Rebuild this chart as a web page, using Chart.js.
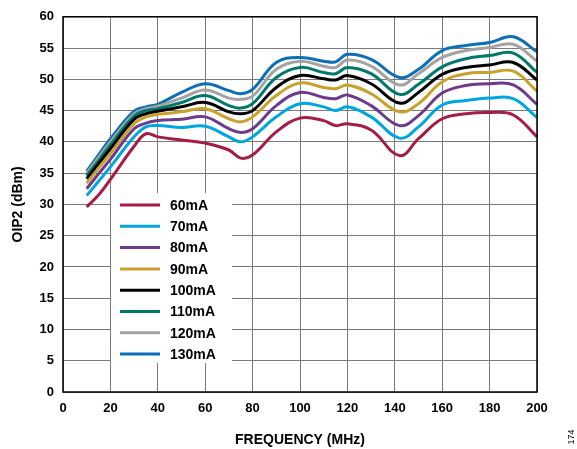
<!DOCTYPE html>
<html><head><meta charset="utf-8">
<script src="https://cdn.jsdelivr.net/npm/chart.js@4/dist/chart.umd.min.js"></script>
<style>html,body{margin:0;padding:0;background:#fff}#wrap{width:577px;height:449px}</style>
</head><body><div id="wrap"><canvas id="c" width="577" height="449"></canvas></div>
<script>
const freq = [10,15,20,30,35,40,50,60,70,75,80,90,100,110,115,120,130,142,150,160,170,180,190,200];
const s60  = [29.6,31.5,34.0,39.3,41.3,40.8,40.3,39.8,38.7,37.4,37.9,41.6,43.8,43.4,42.6,42.9,41.9,37.8,40.5,43.7,44.5,44.7,44.3,40.8];
const s70  = [31.4,33.7,36.0,40.8,42.4,42.6,42.3,42.5,40.8,40.0,40.8,44.0,46.1,45.6,45.0,45.6,44.0,40.6,42.4,45.9,46.6,47.0,46.9,43.9];
const s80  = [32.5,34.9,37.2,42.1,43.0,43.4,43.6,44.0,42.1,41.5,42.1,45.8,47.9,47.1,46.9,47.5,45.8,42.6,44.2,47.8,49.0,49.3,49.1,46.0];
const s90  = [33.4,35.8,38.1,42.9,44.0,44.4,44.8,45.3,43.7,43.2,44.0,47.4,49.4,48.7,48.5,49.1,47.7,44.8,46.1,49.6,50.9,51.1,51.3,48.1];
const s100 = [34.1,36.5,38.9,43.6,44.5,44.9,45.6,46.3,44.8,44.5,45.0,48.7,50.6,50.1,49.9,50.6,49.3,46.2,47.9,50.8,51.9,52.3,52.7,49.9];
const s110 = [34.6,37.0,39.5,44.1,45.0,45.3,46.3,47.4,45.8,45.4,46.1,50.3,51.9,51.1,50.9,51.9,50.9,47.6,49.2,52.0,53.3,53.8,54.2,51.1];
const s120 = [35.0,37.5,40.0,44.5,45.3,45.7,47.0,48.3,47.0,46.8,47.3,51.6,52.9,52.1,51.9,53.1,52.1,49.1,50.9,53.5,54.6,55.1,55.6,52.9];
const s130 = [35.3,37.9,40.5,44.9,45.6,46.0,47.9,49.3,48.2,47.7,48.4,52.7,53.5,52.9,52.8,54.0,53.2,50.3,51.6,54.6,55.4,55.9,56.8,54.4];
const labels = ['60mA','70mA','80mA','90mA','100mA','110mA','120mA','130mA'];
const series = [s60,s70,s80,s90,s100,s110,s120,s130];
const colors = ['#A51C45','#00A6DF','#6E3A8E','#C9A22E','#000000','#00796B','#A3A3A3','#0D6FB8'];
const xTicks = [0,20,40,60,80,100,120,140,160,180,200];
const yTicks = [0,5,10,15,20,25,30,35,40,45,50,55,60];

const datasets = series.map((s,i)=>({
  label: labels[i],
  data: freq.map((f,j)=>({x:f,y:s[j]})),
  borderColor: colors[i], backgroundColor: colors[i],
  borderWidth: 3, pointRadius: 0, tension: 0.4, fill:false
}));

const FONT = 'Liberation Sans, Arial, sans-serif';
const overlay = {
  id:'overlay',
  afterDraw(chart){
    const ctx = chart.ctx, a = chart.chartArea;
    ctx.save();
    ctx.strokeStyle = '#000'; ctx.lineWidth = 1.5;
    ctx.strokeRect(a.left, a.top, a.right-a.left, a.bottom-a.top);
    // legend
    ctx.fillStyle = '#fff';
    ctx.fillRect(111, 193, 121, 170);
    ctx.font = 'bold 14px ' + FONT;
    ctx.textBaseline = 'middle';
    chart.data.datasets.forEach((d,i)=>{
      const y = 205 + i*21.3;
      ctx.strokeStyle = d.borderColor; ctx.lineWidth = 3;
      ctx.beginPath(); ctx.moveTo(120,y); ctx.lineTo(160,y); ctx.stroke();
      ctx.fillStyle = '#000';
      ctx.fillText(d.label, 170, y+1);
    });
    // figure number
    ctx.translate(572, 437);
    ctx.rotate(-Math.PI/2);
    ctx.font = '9px ' + FONT;
    ctx.textAlign = 'center';
    ctx.fillStyle = '#000';
    ctx.fillText('174', 0, 0);
    ctx.restore();
  }
};

new Chart(document.getElementById('c'), {
  type:'line',
  data:{datasets},
  options:{
    responsive:false, animation:false,
    layout:{padding:{top:14,right:40,left:0,bottom:0}},
    plugins:{legend:{display:false}, tooltip:{enabled:false}},
    scales:{
      x:{type:'linear', min:0, max:200,
        afterBuildTicks(ax){ax.ticks = xTicks.map(v=>({value:v}));},
        grid:{color:'#7a7a7a', lineWidth:1, drawTicks:false},
        border:{display:false},
        ticks:{color:'#000', font:{family:FONT, size:13, weight:'bold'}, padding:9, maxRotation:0},
        title:{display:true, text:'FREQUENCY (MHz)', color:'#000', font:{family:FONT, size:14, weight:'bold'}, padding:{top:5,bottom:0}},
        afterFit(ax){ax.height = 57;}
      },
      y:{type:'linear', min:0, max:60,
        afterBuildTicks(ax){ax.ticks = yTicks.map(v=>({value:v}));},
        grid:{color:'#7a7a7a', lineWidth:1, drawTicks:false},
        border:{display:false},
        ticks:{color:'#000', font:{family:FONT, size:13, weight:'bold'}, padding:9},
        title:{display:true, text:'OIP2 (dBm)', color:'#000', font:{family:FONT, size:14, weight:'bold'}, padding:{top:10,bottom:4}},
        afterFit(ax){ax.width = 63;}
      }
    }
  },
  plugins:[overlay]
});
</script></body></html>
